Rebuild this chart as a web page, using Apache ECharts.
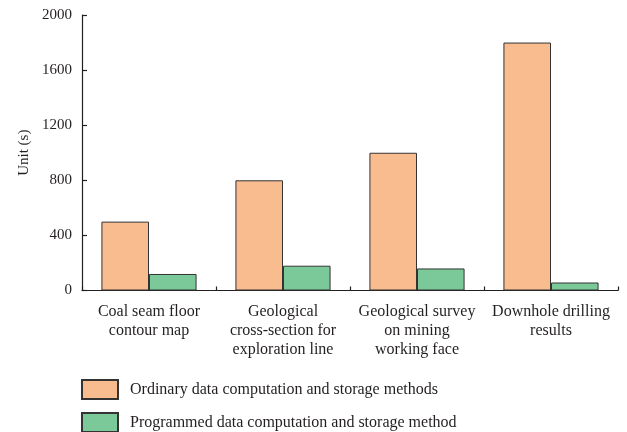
<!DOCTYPE html>
<html>
<head>
<meta charset="utf-8">
<script src="https://cdn.jsdelivr.net/npm/echarts@6/dist/echarts.min.js"></script>
<style>html,body{margin:0;padding:0;background:#fff;}#c{width:627px;height:432px;}</style>
</head>
<body>
<div id="c"></div>
<script>
const categories = ['Coal seam floor\ncontour map', 'Geological\ncross-section for\nexploration line', 'Geological survey\non mining\nworking face', 'Downhole drilling\nresults'];
const ordinaryValues = [500, 800, 1000, 1800];
const programmedValues = [120, 180, 160, 58];
const seriesNames = ['Ordinary data computation and storage methods', 'Programmed data computation and storage method'];
const yTicks = { min: 0, max: 2000, interval: 400 };

const font = '"Liberation Serif", "DejaVu Serif", serif';
const txt = '#231f20';
const legendBase = {
  orient: 'vertical', left: 81, padding: 0, itemWidth: 36, itemHeight: 19,
  textStyle: { fontFamily: font, fontSize: 16, color: txt, padding: [0, 0, 0, 7] },
  icon: 'rect'
};
const chart = echarts.init(document.getElementById('c'));
chart.setOption({
  animation: false,
  textStyle: { fontFamily: font, color: txt },
  grid: { left: 82, right: 9, top: 15, bottom: 141.5 },
  legend: [
    Object.assign({}, legendBase, { top: 379, data: [seriesNames[0]] }),
    Object.assign({}, legendBase, { top: 412, data: [seriesNames[1]] })
  ],
  xAxis: {
    type: 'category', data: categories,
    axisLine: { lineStyle: { color: '#231f20', width: 1.2 } },
    axisTick: { show: true, inside: true, length: 4, alignWithLabel: false, lineStyle: { color: '#231f20', width: 1.2 } },
    axisLabel: { interval: 0, margin: 12, fontSize: 16, lineHeight: 19, color: txt, fontFamily: font }
  },
  yAxis: {
    type: 'value', min: yTicks.min, max: yTicks.max, interval: yTicks.interval,
    name: 'Unit (s)', nameLocation: 'middle', nameGap: 47,
    nameTextStyle: { fontSize: 15, color: txt, fontFamily: font },
    splitLine: { show: false },
    axisLine: { show: true, lineStyle: { color: '#231f20', width: 1.2 } },
    axisTick: { show: true, inside: true, length: 5, lineStyle: { color: '#231f20', width: 1.2 } },
    axisLabel: { margin: 10, fontSize: 15, color: txt, fontFamily: font, formatter: v => String(v) }
  },
  series: [
    { name: seriesNames[0], type: 'bar', data: ordinaryValues, barGap: '0%', barCategoryGap: '29%',
      itemStyle: { color: '#f9bc8f', borderColor: '#333', borderWidth: 1 } },
    { name: seriesNames[1], type: 'bar', data: programmedValues,
      itemStyle: { color: '#7bc998', borderColor: '#333', borderWidth: 1 } }
  ]
});
</script>
</body>
</html>
